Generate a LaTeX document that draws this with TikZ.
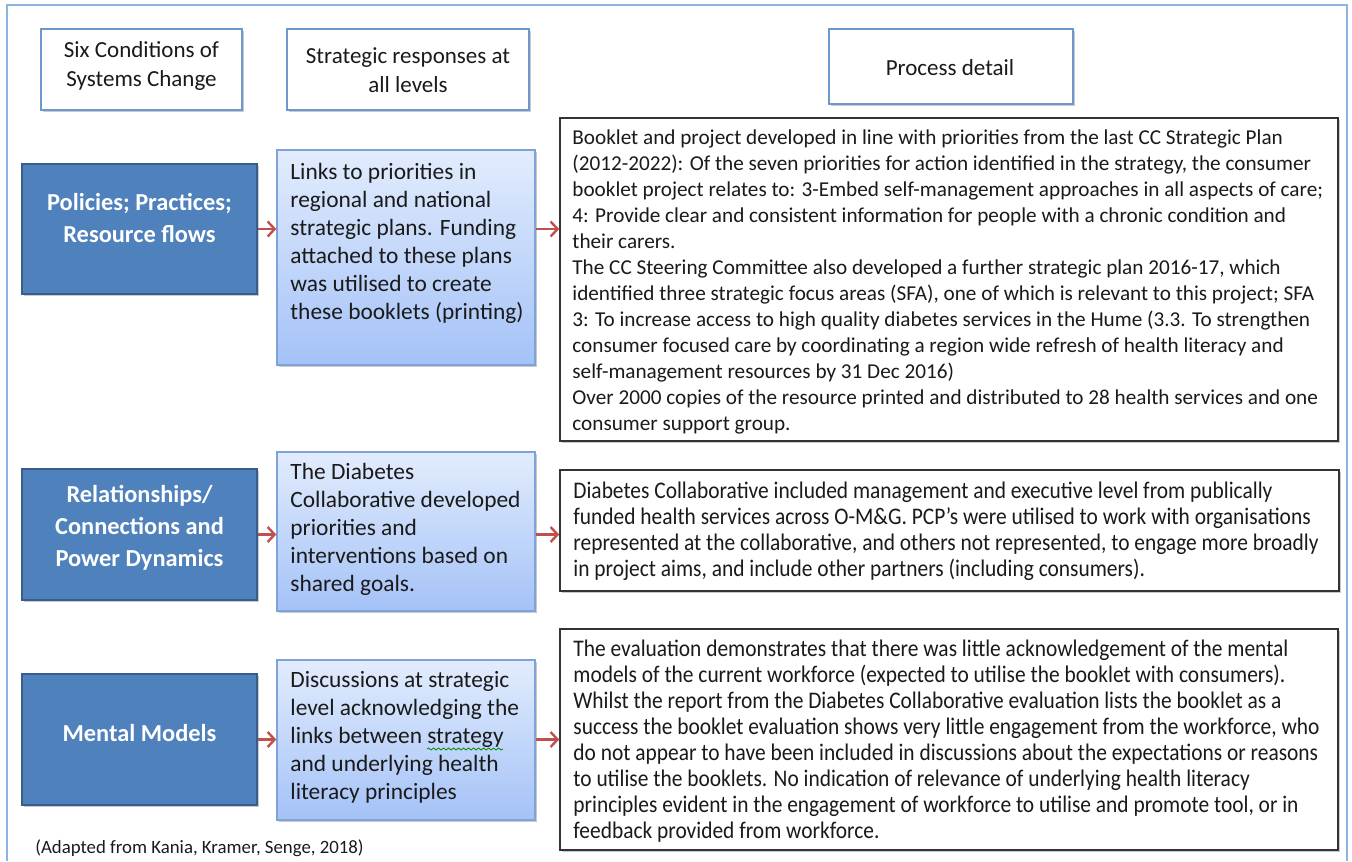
\documentclass[tikz,border=0pt]{standalone}
\usepackage{fontspec}
\setmainfont{Carlito}
\newfontfamily\condfont[FakeStretch=0.9]{Carlito}
\usetikzlibrary{shadows,arrows.meta,decorations.pathmorphing}
\definecolor{frameblue}{HTML}{8DB4E2}
\definecolor{hdrblue}{HTML}{6E97CF}
\definecolor{darkblue}{HTML}{4F81BD}
\definecolor{darkblueedge}{HTML}{385D8A}
\definecolor{gradtop}{HTML}{E2ECFD}
\definecolor{gradbot}{HTML}{A4C2F7}
\definecolor{gradedge}{HTML}{7EA3D9}
\definecolor{arrred}{HTML}{C0504D}
\definecolor{txt}{HTML}{1A1A1A}
\tikzset{
  shad/.style={drop shadow={opacity=0.35,shadow xshift=1.2pt,shadow yshift=-1.2pt,fill=black!60}},
  hdrbox/.style={draw=hdrblue,line width=0.6pt,fill=white,shad,inner sep=0pt},
  condbox/.style={draw=darkblueedge,line width=1.2pt,fill=darkblue,shad,inner sep=0pt},
  midbox/.style={draw=gradedge,line width=0.7pt,top color=gradtop,bottom color=gradbot,shad,inner sep=0pt},
  detbox/.style={draw=black!80,line width=0.8pt,fill=white,shad,inner sep=0pt},
  txtnode/.style={inner sep=0pt,align=left,text=txt,execute at begin node=\strut,execute at end node=\strut},
  hdrtxt/.style={txtnode,align=center,font=\fontsize{11.5}{14.5}\selectfont},
  condtxt/.style={txtnode,align=center,text=white,font=\bfseries\fontsize{12.2}{16}\selectfont},
  midtxt/.style={txtnode,font=\fontsize{11.7}{14}\selectfont},
  dettxt/.style={txtnode,font=\fontsize{10.6}{13}\selectfont},
  dettxtc/.style={txtnode,font=\condfont\fontsize{11.9}{13}\selectfont},
  arr/.style={draw=arrred,line width=1.2pt,-{Straight Barb[length=3.5pt,width=7.5pt]}}
}
\begin{document}
\begin{tikzpicture}[x=0.5pt,y=-0.5pt]
\useasboundingbox (0,0) rectangle (1352,861);
% outer frame
\draw[frameblue,line width=1.2pt] (7,861) -- (7,5) -- (1347,5) -- (1347,861);

% headers
\node[hdrbox,minimum width=100.5pt,minimum height=40.5pt] (h1) at (141.5,69.5) {};
\node[hdrtxt] (h1t) at (141.5,68) {Six Conditions of\\Systems Change};
\node[hdrbox,minimum width=121pt,minimum height=40.5pt] (h2) at (408,69.5) {};
\node[hdrtxt] (h2t) at (408,74.5) {Strategic responses at\\all levels};
\node[hdrbox,minimum width=122pt,minimum height=37.5pt] (h3) at (951,66.5) {};
\node[hdrtxt] (h3t) at (950,69.5) {Process detail};

% condition boxes
\node[condbox,minimum width=117.5pt,minimum height=65pt] (pol) at (139.5,229) {};
\node[condtxt] (polt) at (139.5,223) {Policies; Practices;\\Resource flows};
\node[condbox,minimum width=117.5pt,minimum height=65.5pt] (rel) at (139.5,534.5) {};
\node[condtxt] (relt) at (139.5,531) {Relationships/\\Connections and\\Power Dynamics};
\node[condbox,minimum width=117.5pt,minimum height=65.5pt] (mm) at (139.5,739.5) {};
\node[condtxt] (mmt) at (139.5,735) {Mental Models};

% strategic response boxes
\node[midbox,minimum width=129pt,minimum height=107.5pt] (m1) at (406,257.5) {};
\node[midtxt,anchor=west] (m1t) at (290,245.5) {Links to priorities in\\regional and national\\strategic plans. Funding\\attached to these plans\\was utilised to create\\these booklets (printing)};
\node[midbox,minimum width=129pt,minimum height=79.5pt] (m2) at (406,531.5) {};
\node[midtxt,anchor=west] (m2t) at (290,531.5) {The Diabetes\\Collaborative developed\\priorities and\\interventions based on\\shared goals.};
\node[midbox,minimum width=129pt,minimum height=80pt] (m3) at (406,740) {};
\node[midtxt,anchor=west] (m3t) at (290,740) {Discussions at strategic\\level acknowledging the\\links between strategy\\and underlying health\\literacy principles};
\draw[green!55!black,line width=0.4pt,decorate,decoration={snake,amplitude=0.5pt,segment length=2.5pt}] (427,749) -- (503,749);

% detail boxes
\node[detbox,minimum width=389pt,minimum height=161.5pt] (r1) at (949,279.5) {};
\node[dettxt,anchor=west] (r1t) at (572,284) {Booklet and project developed in line with priorities from the last CC Strategic Plan\\(2012-2022): Of the seven priorities for action identified in the strategy, the consumer\\booklet project relates to: 3-Embed self-management approaches in all aspects of care;\\4: Provide clear and consistent information for people with a chronic condition and\\their carers.\\The CC Steering Committee also developed a further strategic plan 2016-17, which\\identified three strategic focus areas (SFA), one of which is relevant to this project; SFA\\3: To increase access to high quality diabetes services in the Hume (3.3. To strengthen\\consumer focused care by coordinating a region wide refresh of health literacy and\\self-management resources by 31 Dec 2016)\\Over 2000 copies of the resource printed and distributed to 28 health services and one\\consumer support group.};
\node[detbox,minimum width=389.5pt,minimum height=60.5pt] (r2) at (949.5,530.5) {};
\node[dettxtc,anchor=west] (r2t) at (573,533) {Diabetes Collaborative included management and executive level from publically\\funded health services across O-M\&G. PCP’s were utilised to work with organisations\\represented at the collaborative, and others not represented, to engage more broadly\\in project aims, and include other partners (including consumers).};
\node[detbox,minimum width=389pt,minimum height=110.5pt] (r3) at (949,739.5) {};
\node[dettxtc,anchor=west] (r3t) at (573,743) {The evaluation demonstrates that there was little acknowledgement of the mental\\models of the current workforce (expected to utilise the booklet with consumers).\\Whilst the report from the Diabetes Collaborative evaluation lists the booklet as a\\success the booklet evaluation shows very little engagement from the workforce, who\\do not appear to have been included in discussions about the expectations or reasons\\to utilise the booklets. No indication of relevance of underlying health literacy\\principles evident in the engagement of workforce to utilise and promote tool, or in\\feedback provided from workforce.};

% arrows
\draw[arr] (pol.east) -- (pol.east -| m1.west);
\draw[arr] (m1.east |- pol.east) -- (r1.west |- pol.east);
\draw[arr] (rel.east) -- (rel.east -| m2.west);
\draw[arr] (m2.east |- rel.east) -- (r2.west |- rel.east);
\draw[arr] (mm.east) -- (mm.east -| m3.west);
\draw[arr] (m3.east |- mm.east) -- (r3.west |- mm.east);

% source note
\node[txtnode,anchor=west,font=\fontsize{9.4}{11}\selectfont] (src) at (35,849) {(Adapted from Kania, Kramer, Senge, 2018)};
\end{tikzpicture}
\end{document}
